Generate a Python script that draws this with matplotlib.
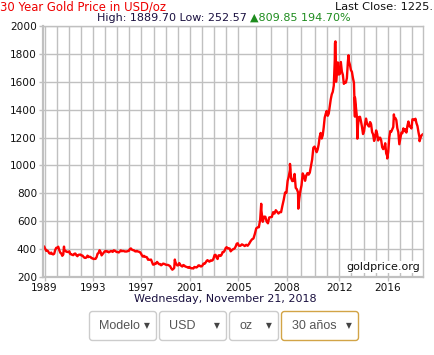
import numpy as np
import matplotlib
matplotlib.use("Agg")
import matplotlib.pyplot as plt
from matplotlib.patches import FancyBboxPatch, Rectangle

# monthly average gold price (USD/oz), Nov 1988 .. Nov 2018
start_year, start_month = 1988, 11
monthly_prices = [
    420, 419,
    404, 388, 390, 384, 371, 367, 375, 365, 362, 367, 394, 409,  # 1989
    410, 417, 393, 374, 369, 352, 362, 395, 389, 381, 381, 378,  # 1990
    384, 364, 363, 358, 357, 367, 368, 356, 349, 359, 360, 361,  # 1991
    354, 354, 345, 338, 337, 340, 353, 343, 345, 344, 335, 334,  # 1992
    329, 330, 330, 342, 367, 372, 392, 379, 355, 364, 374, 383,  # 1993
    387, 382, 384, 377, 381, 386, 385, 380, 391, 389, 384, 379,  # 1994
    379, 376, 382, 391, 385, 387, 386, 383, 383, 383, 386, 387,  # 1995
    400, 405, 396, 393, 392, 385, 383, 387, 383, 381, 378, 369,  # 1996
    355, 346, 352, 344, 344, 341, 324, 324, 323, 325, 306, 289,  # 1997
    289, 297, 296, 308, 299, 292, 293, 284, 289, 296, 294, 291,  # 1998
    287, 287, 286, 282, 277, 262, 256, 257, 265, 311, 293, 283,  # 1999
    284, 300, 287, 280, 275, 286, 282, 275, 273, 270, 266, 272,  # 2000
    266, 262, 263, 261, 272, 270, 268, 273, 283, 283, 276, 276,  # 2001
    282, 296, 294, 302, 314, 321, 314, 310, 319, 317, 319, 333,  # 2002
    357, 359, 340, 329, 355, 356, 351, 360, 379, 379, 389, 407,  # 2003
    414, 405, 406, 404, 384, 392, 398, 401, 406, 420, 439, 442,  # 2004
    424, 424, 434, 429, 422, 431, 424, 438, 456, 470, 476, 510,  # 2005
    549, 555, 557, 610, 676, 596, 633, 632, 598, 585, 627, 629,  # 2006
    631, 665, 655, 679, 667, 655, 665, 665, 712, 754, 806, 803,  # 2007
    889, 922, 968, 909, 888, 889, 939, 839, 829, 806, 760, 816,  # 2008
    858, 943, 924, 890, 928, 945, 934, 949, 996, 1043, 1127, 1135,  # 2009
    1118, 1095, 1114, 1149, 1205, 1233, 1193, 1215, 1271, 1343, 1370, 1391,  # 2010
    1356, 1372, 1424, 1474, 1510, 1528, 1572, 1756, 1772, 1666, 1739, 1652,  # 2011
    1656, 1742, 1674, 1650, 1585, 1596, 1594, 1626, 1744, 1747, 1722, 1684,  # 2012
    1671, 1627, 1593, 1487, 1414, 1343, 1286, 1347, 1349, 1316, 1275, 1225,  # 2013
    1244, 1300, 1336, 1299, 1287, 1279, 1311, 1296, 1239, 1223, 1176, 1201,  # 2014
    1251, 1227, 1179, 1198, 1199, 1181, 1131, 1117, 1125, 1159, 1086, 1068,  # 2015
    1097, 1200, 1246, 1242, 1260, 1276, 1337, 1341, 1326, 1267, 1238, 1152,  # 2016
    1192, 1234, 1231, 1266, 1246, 1260, 1236, 1283, 1315, 1280, 1282, 1265,  # 2017
    1331, 1331, 1325, 1335, 1303, 1282, 1238, 1202, 1198, 1215, 1222,        # 2018
]

# daily extremes that stick out of the monthly averages
spike_dates = [1990.60, 1999.55, 1999.76, 2006.36, 2008.21, 2008.81, 2011.64,
               2011.68, 2011.73, 2012.76, 2013.29, 2013.49, 2015.96, 2016.51,
               2018.63]
spike_prices = [418, 252.57, 325, 725, 1011, 690, 1877, 1889.70, 1600, 1790,
                1350, 1192, 1050, 1366, 1174]

label_years = [1989, 1993, 1997, 2001, 2005, 2008, 2012, 2016]
y_ticks = [200, 400, 600, 800, 1000, 1200, 1400, 1600, 1800, 2000]
end_date = 2018.89

title = "30 Year Gold Price in USD/oz"
last_close = "Last Close: 1225."
stats_text = "High: 1889.70 Low: 252.57 "
change_text = "\u25b2809.85 194.70%"
date_text = "Wednesday, November 21, 2018"
selectors = ["Modelo", "USD", "oz", "30 a\u00f1os"]

# the site stretches some years wider than others on its x axis
year_width = {2005: 17.5, 2006: 15.7, 2007: 16.0, 2008: 14.0, 2009: 14.3}
grid_years = np.arange(1989, 2020)
grid_pos = np.concatenate([[0], np.cumsum([year_width.get(y, 12.2) for y in grid_years[:-1]])])


def to_x(t):
    t = np.asarray(t, dtype=float)
    # before 1989 keep the slope of the first year
    return np.where(t < 1989, (t - 1989) * 12.2, np.interp(t, grid_years, grid_pos))


# build the series
n = len(monthly_prices)
months = start_month - 1 + np.arange(n)
dates = start_year + months // 12 + (months % 12 + 0.5) / 12
dates = np.concatenate([dates, spike_dates])
prices = np.concatenate([monthly_prices, spike_prices])
order = np.argsort(dates)
dates, prices = dates[order], prices[order]
xs = to_x(dates)

W, H = 434, 355
fig = plt.figure(figsize=(W / 100, H / 100), dpi=100)

# page layer in pixel coordinates
bg = fig.add_axes([0, 0, 1, 1], zorder=0)
bg.set_xlim(0, W)
bg.set_ylim(H, 0)
bg.axis("off")

font = "DejaVu Sans"
bg.text(0, 7, title, color="#ee0000", fontsize=8.4, va="center", ha="left", family=font)
bg.text(433, 7, last_close, color="#111111", fontsize=8.2, va="center", ha="right", family=font)
t1 = bg.text(97, 18, stats_text, color="#1a1040", fontsize=8.0, va="center", ha="left", family=font)
fig.canvas.draw()
bb = t1.get_window_extent()
bg.text(97 + bb.width, 18, change_text, color="#1e8c1e", fontsize=8.0, va="center", ha="left", family=font)
bg.text(225, 299, date_text, color="#1a1040", fontsize=8.0, va="center", ha="center", family=font)

# dropdown selectors
boxes = [(89.5, 156.5), (159.5, 226.5), (229.5, 278.5), (281.5, 358.5)]
for i, ((x0, x1), label) in enumerate(zip(boxes, selectors)):
    edge = "#d2a447" if i == 3 else "#cccccc"
    bg.add_patch(FancyBboxPatch((x0, 311.5), x1 - x0, 29, boxstyle="round,pad=0,rounding_size=3",
                                facecolor="white", edgecolor=edge, linewidth=1))
    txt = bg.text(x0 + 10, 326, label, color="#555555", fontsize=9, va="center", ha="left",
                  family="Liberation Sans")
    clip = Rectangle((x0, 311), x1 - x0 - 22, 30, transform=bg.transData, visible=False)
    bg.add_patch(clip)
    txt.set_clip_path(clip)
    bg.text(x1 - 10, 326, "\u25bc", color="#444444", fontsize=5.5, va="center", ha="center", family=font)

# chart
left, right, top, bottom = 43.3, 422.7, 26, 277
ax = fig.add_axes([left / W, 1 - bottom / H, (right - left) / W, (bottom - top) / H], zorder=1)
ax.set_facecolor("none")
ax.plot(xs, prices, color="#ff0000", linewidth=1.7, solid_joinstyle="round")
ax.set_xlim(to_x(1988.89), to_x(end_date))
ax.set_ylim(200, 2000)

ax.set_xticks(to_x(label_years))
ax.set_xticklabels([str(y) for y in label_years])
ax.set_xticks(grid_pos[grid_pos <= to_x(end_date)], minor=True)
ax.set_yticks(y_ticks)
ax.grid(True, which="both", color="#c0c0c0", linewidth=1)
ax.set_axisbelow(True)
ax.tick_params(axis="both", which="major", length=3, width=1, color="#c0c0c0",
               labelsize=7.6, labelcolor="#111111", pad=1.5)
ax.tick_params(axis="x", which="minor", length=0)
for lab in ax.get_xticklabels() + ax.get_yticklabels():
    lab.set_family(font)
for side, sp in ax.spines.items():
    sp.set_color("#c0c0c0")
    sp.set_linewidth(1.6 if side in ("left", "bottom") else 1)

ax.text(0.993, 0.02, "goldprice.org", transform=ax.transAxes, ha="right", va="bottom",
        fontsize=8.0, color="#111111", family=font,
        bbox=dict(facecolor="white", edgecolor="none", pad=1))

fig.savefig("out.png", dpi=100)
